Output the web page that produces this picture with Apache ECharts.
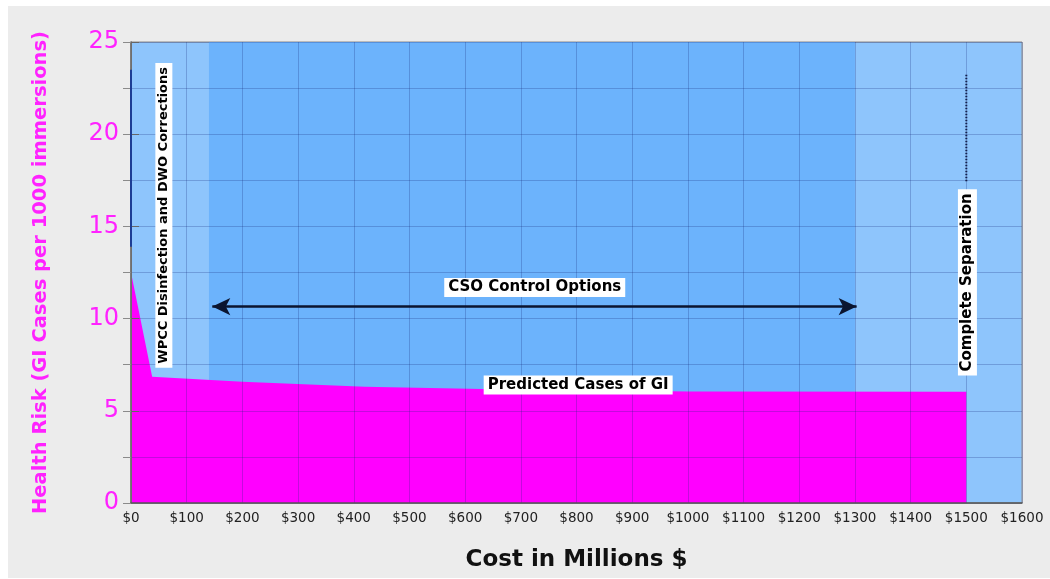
<!DOCTYPE html>
<html><head><meta charset="utf-8">
<script src="https://cdn.jsdelivr.net/npm/echarts@6/dist/echarts.min.js"></script>
<style>
html,body{margin:0;padding:0;background:#fff;width:1050px;height:579px;overflow:hidden;}
#c{position:absolute;left:8px;top:6px;width:1042px;height:572px;background:#ececec;}
</style>
</head><body><div id="c"></div>
<script>
// ---- data ----
const costs = [0, 38, 200, 420, 630, 1000, 1500];
const cases = [12.5, 6.85, 6.58, 6.3, 6.18, 6.04, 6.03];
const controlBand = [140, 1300];
const wpccLine = [[0, 13.9], [0, 23.5]];
const separationLine = [[1500, 17.45], [1500, 23.3]];
const arrowSpan = [[146, 10.65], [1303, 10.65]];
const annotationTexts = ['WPCC Disinfection and DWO Corrections', 'Complete Separation', 'CSO Control Options', 'Predicted Cases of GI'];
const annotationX = [59, 1502, 725, 803];
const annotationY = [15.6, 11.96, 11.69, 6.4];
const yLabelValues = [0, 5, 10, 15, 20, 25];
const xTickPrefix = '$';

const chart = echarts.init(document.getElementById('c'), null, {renderer: 'canvas'});
const gridLine = 'rgba(20,40,120,0.25)';
const annRotate = [90, 90, 0, 0];
const annSize = [13, 15, 15, 15];

const option = {
  animation: false,
  grid: {left: 123, right: 28, top: 36, bottom: 75, show: true,
         backgroundColor: '#8ec5fc', borderColor: '#8a8a8a', borderWidth: 1},
  xAxis: [{
    type: 'value', min: 0, max: 1600, interval: 100, z: 5,
    axisLine: {show: true, onZero: false, lineStyle: {color: '#555', width: 1.5}},
    axisTick: {show: false},
    axisLabel: {formatter: v => xTickPrefix + v, color: '#222', fontSize: 13.5,
                fontFamily: 'DejaVu Sans', margin: 8},
    splitLine: {show: true, lineStyle: {color: gridLine, width: 1}},
    name: 'Cost in Millions $', nameLocation: 'middle', nameGap: 46,
    nameTextStyle: {color: '#111', fontSize: 23, fontWeight: 'bold', fontFamily: 'DejaVu Sans'}
  }],
  yAxis: [{
    type: 'value', min: 0, max: 25, interval: 2.5, position: 'left', z: 5,
    axisLine: {show: true, onZero: false, lineStyle: {color: '#8a8a8a'}},
    axisTick: {show: true, inside: false, length: 8, lineStyle: {color: '#8a8a8a'}},
    axisLabel: {formatter: v => (yLabelValues.indexOf(v) >= 0 ? String(v) : ''),
                color: '#ff22ff', fontSize: 24, fontFamily: 'DejaVu Sans', margin: 12},
    splitLine: {show: true, lineStyle: {color: gridLine, width: 1}},
    name: 'Health Risk (GI Cases per 1000 immersions)', nameLocation: 'middle', nameGap: 80,
    nameTextStyle: {color: '#ff22ff', fontSize: 19.5, fontWeight: 'bold', fontFamily: 'DejaVu Sans'}
  }, {
    type: 'value', min: 0, max: 25, interval: 5, position: 'right', z: 5,
    axisLine: {show: true, lineStyle: {color: '#666', width: 1.5}},
    axisTick: {show: true, inside: false, length: 8, lineStyle: {color: '#666'}},
    axisLabel: {show: false},
    splitLine: {show: false}
  }],
  series: [
    {
      type: 'line', data: [], z: 1, silent: true,
      markArea: {silent: true, itemStyle: {color: '#6cb3fc'},
        data: [[{xAxis: controlBand[0]}, {xAxis: controlBand[1]}]]}
    },
    {
      type: 'line', name: 'Predicted Cases of GI', z: 3,
      data: costs.map((c, i) => [c, cases[i]]),
      showSymbol: false, symbol: 'none',
      lineStyle: {width: 0, color: '#ff00ff'},
      areaStyle: {color: '#ff00ff', opacity: 1}
    },
    {
      type: 'line', z: 6, data: wpccLine, symbol: 'none',
      lineStyle: {color: '#1d3d94', width: 2}
    },
    {
      type: 'line', z: 6, data: separationLine, symbol: 'none',
      lineStyle: {color: '#14214d', width: 2, type: [1.5, 1.5]}
    },
    {
      type: 'line', data: [], z: 7, silent: true,
      markLine: {
        silent: true, symbol: ['arrow', 'arrow'], symbolSize: [13, 18],
        label: {show: false},
        lineStyle: {color: '#0b1530', width: 2.5, type: 'solid'},
        emphasis: {disabled: true},
        data: [[{coord: arrowSpan[0]}, {coord: arrowSpan[1]}]]
      }
    },
    {
      type: 'scatter', z: 10, symbolSize: 0, silent: true,
      itemStyle: {opacity: 1},
      data: annotationTexts.map((t, i) => ({
        name: t, value: [annotationX[i], annotationY[i]],
        label: {show: true, position: 'inside', formatter: '{b}', rotate: annRotate[i],
          color: '#000', fontSize: annSize[i], fontWeight: 'bold', fontFamily: 'DejaVu Sans',
          backgroundColor: '#fff', padding: [2, 4]}
      }))
    }
  ]
};
chart.setOption(option);
</script>
</body></html>
